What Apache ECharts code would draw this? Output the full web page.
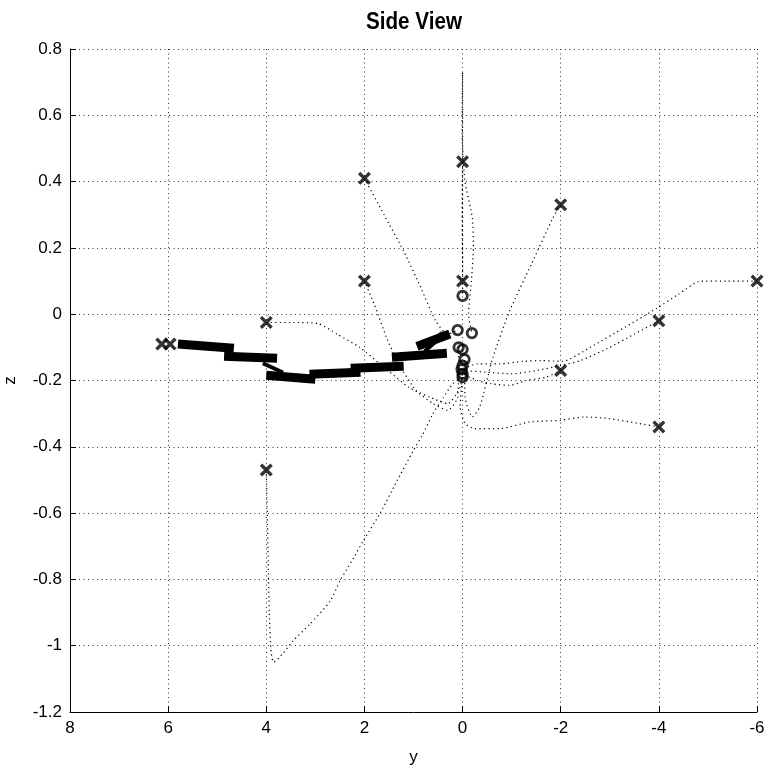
<!DOCTYPE html>
<html>
<head>
<meta charset="utf-8">
<script src="https://cdn.jsdelivr.net/npm/echarts@6/dist/echarts.min.js"></script>
<style>
  html, body { margin: 0; padding: 0; background: #fff; }
  #chart { width: 764px; height: 769px; }
</style>
</head>
<body>
<div id="chart"></div>
<script>
// Axis ranges (horizontal axis is "y", drawn reversed; vertical axis is "z")
const yRange = [-6, 8];
const zRange = [-1.2, 0.8];
const yStep = 2;
const zStep = 0.2;

// Start positions (x markers): [y, z]
const startPoints = [
  [2, 0.41], [0, 0.46], [-2, 0.33], [2, 0.1], [0, 0.1], [-6, 0.1],
  [4, -0.025], [-4, -0.02], [-2, -0.17], [-4, -0.34], [4, -0.47],
  [6.13, -0.09], [5.96, -0.09]
];

// End positions (o markers): [y, z]
const endPoints = [
  [0, 0.055], [0.1, -0.048], [-0.19, -0.057], [0.08, -0.10], [0, -0.106],
  [-0.04, -0.136], [0, -0.155], [0.02, -0.166], [0, -0.18], [0, -0.19]
];

// Dotted paths from each start point
const pathA = [[2,0.41],[1.6,0.3],[1.2,0.19],[0.85,0.08],[0.55,-0.02],[0.3,-0.06],[0.12,-0.05]];
const pathB = [[0,0.46],[0.01,0.3],[0,0.15],[0,0.055]];
const pathC = [[-2,0.33],[-1.84,0.29],[-1.4,0.15],[-0.96,0.01],[-0.62,-0.13],[-0.35,-0.28],[-0.2,-0.31],[-0.05,-0.25],[-0.04,-0.136]];
const pathD = [[2,0.1],[1.8,0.03],[1.55,-0.07],[1.3,-0.15],[0.95,-0.23],[0.6,-0.27],[0.3,-0.29],[0.1,-0.25],[0.08,-0.10]];
const pathE = [[0,0.1],[0,0.4],[0,0.6],[0,0.73],[0.01,0.55],[-0.05,0.4],[-0.2,0.29],[-0.22,0.2],[-0.18,0.1],[-0.12,0.0],[-0.19,-0.057]];
const pathF = [[-6,0.1],[-5.4,0.1],[-4.85,0.1],[-4.4,0.06],[-3.96,0.018],[-3.3,-0.04],[-2.6,-0.1],[-2.04,-0.142],[-1.6,-0.14],[-1.23,-0.142],[-0.76,-0.15],[-0.3,-0.15],[0.02,-0.166]];
const pathG = [[4,-0.025],[3.5,-0.025],[2.95,-0.028],[2.56,-0.06],[2.1,-0.1],[1.6,-0.16],[1.1,-0.22],[0.67,-0.25],[0.3,-0.27],[0.05,-0.22],[0,-0.18]];
const pathH = [[4,-0.47],[3.98,-0.6],[3.96,-0.75],[3.94,-0.9],[3.9,-1.02],[3.85,-1.05],[3.66,-1.023],[3.46,-0.986],[3.11,-0.935],[2.7,-0.866],[2.5,-0.805],[2.2,-0.73],[2.03,-0.685],[1.69,-0.603],[1.34,-0.504],[1.01,-0.413],[0.83,-0.368],[0.61,-0.302],[0.4,-0.253],[0.2,-0.21],[0,-0.19]];
const pathI = [[-4,-0.02],[-3.5,-0.06],[-3,-0.1],[-2.4,-0.14],[-2,-0.155],[-1.5,-0.17],[-1,-0.18],[-0.5,-0.175],[0,-0.17]];
const pathJ = [[-2,-0.17],[-1.7,-0.19],[-1.3,-0.2],[-0.95,-0.215],[-0.6,-0.21],[-0.3,-0.2],[0,-0.18]];
const pathK = [[-4,-0.34],[-3.6,-0.33],[-3,-0.315],[-2.49,-0.31],[-2,-0.32],[-1.37,-0.325],[-0.76,-0.345],[-0.25,-0.345],[-0.05,-0.33],[0.05,-0.28],[0,-0.19]];

// Heavy link segments of the chain: [y1, z1, y2, z2]
const chainSegments = [
  [5.80, -0.090, 4.66, -0.103],
  [4.86, -0.127, 3.78, -0.133],
  [4.00, -0.184, 3.00, -0.196],
  [3.12, -0.181, 2.08, -0.175],
  [2.28, -0.163, 1.20, -0.157],
  [1.44, -0.130, 0.32, -0.118],
  [0.93, -0.097, 0.26, -0.060]
];
// Joint connectors between chain links
const jointSegments = [
  [4.07, -0.148, 3.66, -0.176],
  [0.77, -0.112, 0.42, -0.066]
];
// Chain tip
const chainTip = [[0.42, -0.066]];

const fmt = v => String(Number(v.toFixed(1)));

const labelFont = 'Liberation Sans, Arial, sans-serif';

const series = [];

[pathA, pathB, pathC, pathD, pathE, pathF, pathG, pathH, pathI, pathJ, pathK].forEach(p => {
  series.push({
    type: 'line', data: p, symbol: 'none', smooth: 0.2, silent: true,
    lineStyle: { color: '#000', width: 1.2, type: [1.2, 3.3] }, z: 3
  });
});

chainSegments.forEach(s => {
  series.push({
    type: 'line', data: [[s[0], s[1]], [s[2], s[3]]], symbol: 'none', silent: true,
    lineStyle: { color: '#000', width: 9, cap: 'butt' }, z: 5
  });
});
jointSegments.forEach(s => {
  series.push({
    type: 'line', data: [[s[0], s[1]], [s[2], s[3]]], symbol: 'none', silent: true,
    lineStyle: { color: '#000', width: 4, cap: 'butt' }, z: 5
  });
});

series.push({
  type: 'scatter', data: chainTip, symbol: 'circle', symbolSize: 9, silent: true,
  itemStyle: { color: '#000' }, z: 6
});

// x marker drawn as a filled cross shape
series.push({
  type: 'scatter', data: startPoints, silent: true,
  symbol: 'path://M0,2.2L2.2,0L6,3.8L9.8,0L12,2.2L8.2,6L12,9.8L9.8,12L6,8.2L2.2,12L0,9.8L3.8,6Z',
  symbolSize: 13, itemStyle: { color: '#000' }, z: 7
});

series.push({
  type: 'scatter', data: endPoints, silent: true,
  symbol: 'circle', symbolSize: 9.5,
  itemStyle: { color: 'rgba(0,0,0,0)', borderColor: '#000', borderWidth: 2.8 }, z: 7
});

const chart = echarts.init(document.getElementById('chart'), null, { renderer: 'canvas' });
chart.setOption({
  animation: false,
  backgroundColor: '#fff',
  grid: { left: 70, right: 7, top: 49, bottom: 57, containLabel: false, outerBoundsMode: 'none' },
  graphic: [{
    type: 'text', x: 414, y: 22, scaleX: 0.86, scaleY: 1,
    style: {
      text: 'Side View', fill: '#000',
      font: 'bold 24px ' + labelFont,
      textAlign: 'center', textVerticalAlign: 'middle'
    }
  }],
  xAxis: {
    type: 'value', inverse: true,
    min: yRange[0], max: yRange[1], interval: yStep,
    name: 'y', nameLocation: 'middle', nameGap: 37,
    nameTextStyle: { color: '#000', fontSize: 17, fontFamily: labelFont },
    axisLine: { show: true, onZero: false, lineStyle: { color: '#000', width: 1 } },
    axisTick: { show: true, inside: true, length: 6, lineStyle: { color: '#000' } },
    axisLabel: { color: '#000', fontSize: 17, fontFamily: labelFont, margin: 8, formatter: fmt },
    splitLine: { show: true, lineStyle: { color: '#333', width: 1, type: [1, 3.5] } }
  },
  yAxis: {
    type: 'value',
    min: zRange[0], max: zRange[1], interval: zStep,
    name: 'z', nameLocation: 'middle', nameGap: 51,
    nameTextStyle: { color: '#000', fontSize: 17, fontFamily: labelFont },
    axisLine: { show: true, onZero: false, lineStyle: { color: '#000', width: 1 } },
    axisTick: { show: true, inside: true, length: 6, lineStyle: { color: '#000' } },
    axisLabel: { color: '#000', fontSize: 17, fontFamily: labelFont, margin: 8, formatter: fmt },
    splitLine: { show: true, lineStyle: { color: '#333', width: 1, type: [1, 3.5] } }
  },
  series: series
});
</script>
</body>
</html>
